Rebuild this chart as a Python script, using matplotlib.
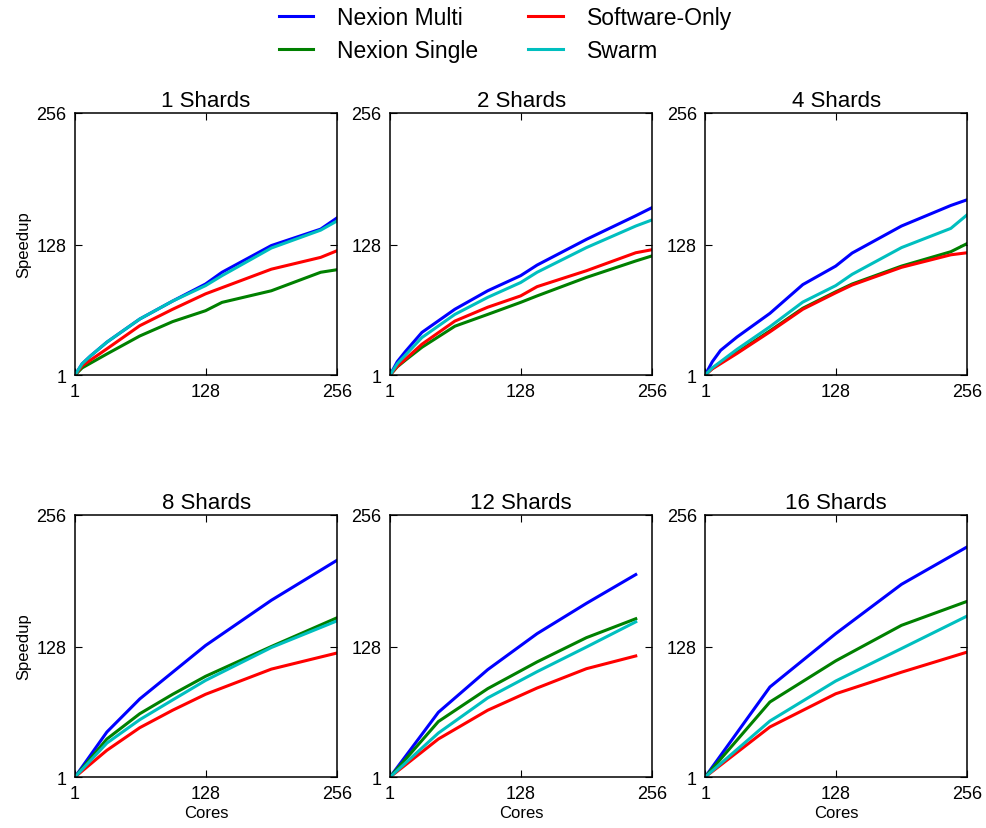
import matplotlib
matplotlib.use("Agg")
import matplotlib.pyplot as plt

plt.rcParams["font.family"] = ["Liberation Sans", "DejaVu Sans"]

series_names = ["Nexion Multi", "Nexion Single", "Software-Only", "Swarm"]
series_colors = ["b", "g", "r", "c"]
shard_counts = [1, 2, 4, 8, 12, 16]

# cores sampled in each panel
cores_1 = [1, 8, 16, 32, 64, 96, 128, 144, 192, 240, 256]
cores_2 = [1, 8, 16, 32, 64, 96, 128, 144, 192, 240, 256]
cores_4 = [1, 8, 16, 32, 64, 96, 128, 144, 192, 240, 256]
cores_8 = [1, 32, 64, 96, 128, 192, 256]
cores_12 = [1, 48, 96, 144, 192, 240]
cores_16 = [1, 64, 128, 192, 256]

# speedup per panel: multi, single, software-only, swarm
multi_1 = [1, 12, 19.5, 33, 55.5, 73, 89.6, 101, 127, 143, 154]
single_1 = [1, 8, 12.5, 21.5, 39, 53, 63.6, 71.7, 83, 101, 103.5]
soft_1 = [1, 10, 15.5, 26.5, 49, 65, 80, 86, 104, 115.5, 122]
swarm_1 = [1, 12, 19.5, 33, 55.5, 73, 88, 97.7, 124.6, 142, 151]

multi_2 = [1, 14, 24, 42.5, 65, 83, 97.7, 108, 133, 156, 164]
single_2 = [1, 9, 15.5, 28, 48.5, 60, 71.7, 78, 96, 112, 117]
soft_2 = [1, 9.5, 16.5, 31, 53.5, 67, 78, 87, 102.5, 120, 123]
swarm_2 = [1, 12, 20.5, 37.5, 60, 76.6, 91, 101, 125, 146, 152]

multi_4 = [1, 14, 25, 38, 61, 89, 107, 119.7, 146, 166, 171.6]
single_4 = [1, 7.5, 13, 23, 44, 66, 82, 89.6, 107, 121, 129]
soft_4 = [1, 7, 12, 22, 43, 65, 81, 88.6, 105.8, 118, 120]
swarm_4 = [1, 8, 14, 26, 48, 72, 88, 99, 125, 143.7, 157]

multi_8 = [1, 44.8, 77, 103, 129, 173, 212]
single_8 = [1, 38, 62.6, 81.5, 99, 128, 156]
soft_8 = [1, 27, 49, 66, 81.5, 106, 121.7]
swarm_8 = [1, 34, 56.8, 76, 95, 127, 153]

multi_12 = [1, 64, 105.5, 140.5, 170, 198]
single_12 = [1, 55, 87, 113, 136.6, 155]
soft_12 = [1, 38, 66, 87.6, 106.4, 118.8]
swarm_12 = [1, 43.8, 78, 103.5, 127.5, 152]

multi_16 = [1, 88.6, 140.5, 188.5, 225]
single_16 = [1, 74, 114, 148.6, 172]
soft_16 = [1, 49.7, 82, 103, 122.6]
swarm_16 = [1, 55.5, 94.4, 126, 157.7]

panels = [
    (cores_1, [multi_1, single_1, soft_1, swarm_1]),
    (cores_2, [multi_2, single_2, soft_2, swarm_2]),
    (cores_4, [multi_4, single_4, soft_4, swarm_4]),
    (cores_8, [multi_8, single_8, soft_8, swarm_8]),
    (cores_12, [multi_12, single_12, soft_12, swarm_12]),
    (cores_16, [multi_16, single_16, soft_16, swarm_16]),
]

fig, axes = plt.subplots(2, 3, figsize=(9.87, 8.29), dpi=100)
fig.subplots_adjust(left=0.076, right=0.980, top=0.8625, bottom=0.0615,
                    wspace=0.202, hspace=0.534)

for i, ax in enumerate(axes.flat):
    cores, ys = panels[i]
    for name, color, y in zip(series_names, series_colors, ys):
        ax.plot(cores, y, color=color, linewidth=2.2, label=name)
    ax.set_xlim(1, 256)
    ax.set_ylim(1, 256)
    ax.set_xticks([1, 128, 256])
    ax.set_yticks([1, 128, 256])
    ax.tick_params(direction="in", top=True, right=True, labelsize=13,
                   length=5, pad=6)
    for s in ax.spines.values():
        s.set_linewidth(1.1)
    ax.set_title(str(shard_counts[i]) + " Shards", fontsize=16, pad=5)
    if i % 3 == 0:
        ax.set_ylabel("Speedup", fontsize=12)
    if i >= 3:
        ax.set_xlabel("Cores", fontsize=12, labelpad=2)

handles, labels = axes[0, 0].get_legend_handles_labels()
fig.legend(handles, labels, loc="upper center", ncol=2, frameon=False,
           fontsize=16.5, bbox_to_anchor=(0.512, 1.017), handlelength=1.5,
           handletextpad=1.05, columnspacing=2.2, labelspacing=0.45)

plt.savefig("out.png", dpi=100)
